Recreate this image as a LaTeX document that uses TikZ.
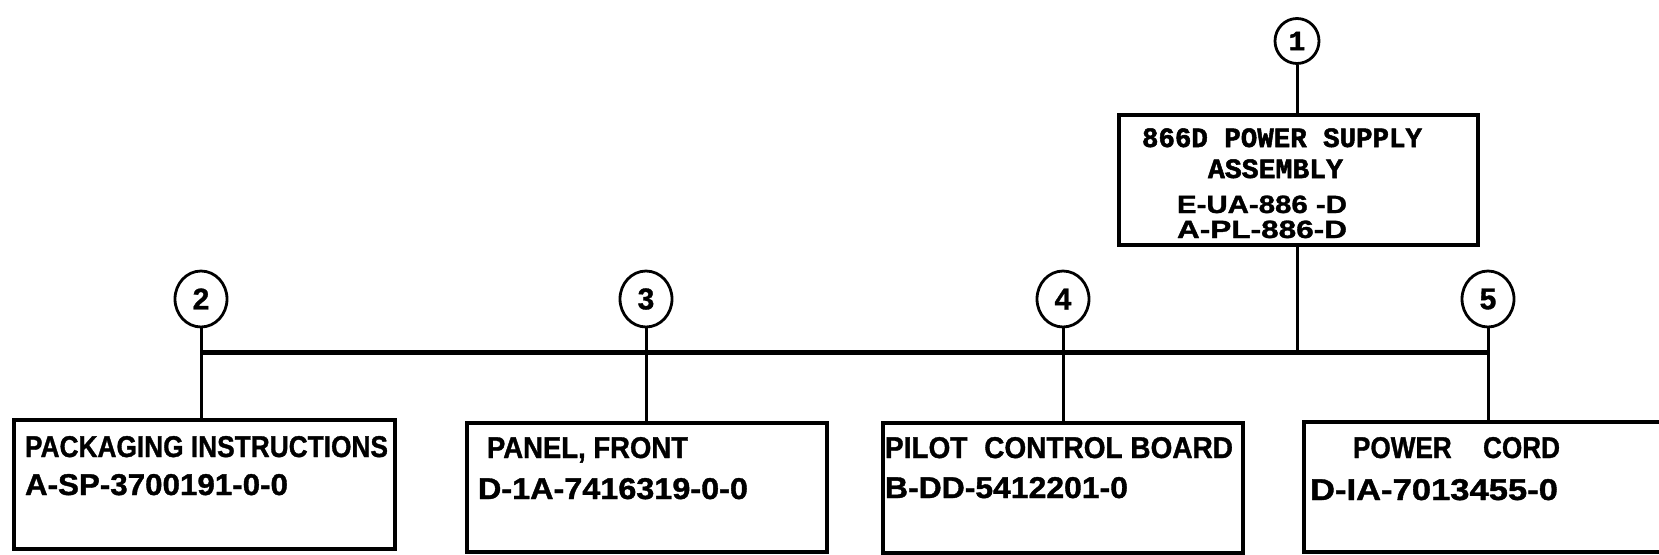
\documentclass[tikz,border=0pt]{standalone}
\usepackage{fontspec}
\usepackage{graphicx}
\usetikzlibrary{shapes.geometric}
\newfontfamily\letr{Liberation Sans}[BoldFont={Liberation Sans Bold}, BoldFeatures={FakeBold=1.2}]
\newfontfamily\typew{Liberation Mono}[BoldFont={Liberation Mono Bold}, BoldFeatures={FakeBold=1.8}]
\newcommand\fw[2]{\resizebox{#1pt}{\height}{#2}}
\tikzset{
  partbox/.style={draw, line width=3.2pt, inner sep=0pt, minimum height=130pt},
  ring/.style={draw, ellipse, line width=2.8pt, inner sep=0pt, minimum width=#1, minimum height=56pt},
  link/.style={line width=3pt},
  busline/.style={line width=5pt},
  txt/.style={anchor=base west, inner sep=0pt, outer sep=0pt},
  letf/.style={font=\letr\bfseries\fontsize{30}{32}\selectfont},
  letg/.style={font=\letr\bfseries\fontsize{25}{27}\selectfont},
  tyf/.style={font=\typew\bfseries\fontsize{28}{30}\selectfont}
}
\begin{document}
\begin{tikzpicture}[x=1pt,y=-1pt]
\fill[white] (0,0) rectangle (1659,554);
\useasboundingbox (0,0) rectangle (1659,554);
% circles
\node[ring=44pt, minimum height=45pt, tyf] (c1) at (1297,41) {1};
\node[ring=52pt, letf] (c2) at (201,299) {2};
\node[ring=52pt, letf] (c3) at (646,299) {3};
\node[ring=52pt, letf] (c4) at (1063,299) {4};
\node[ring=52pt, letf] (c5) at (1488,299) {5};
% boxes
\node[partbox, minimum width=359pt] (b1) at (1298.5,180) {};
\node[partbox, minimum width=381pt, minimum height=129pt] (b2) at (204.5,484.5) {};
\node[partbox, minimum width=360pt, minimum height=129pt] (b3) at (647,487.5) {};
\node[partbox, minimum width=360pt] (b4) at (1063,488) {};
\node[partbox, minimum width=420pt] (b5) at (1514,487) {};
\coordinate (bus) at (0,352);
% connectors
\draw[link] (c1.south) -- (c1.south |- b1.north);
\draw[link] (b1.south -| c1) -- (c1 |- bus);
\draw[busline] (c2 |- bus) -- (c5 |- bus);
\draw[link] (c2.south) -- (c2.south |- b2.north);
\draw[link] (c3.south) -- (c3.south |- b3.north);
\draw[link] (c4.south) -- (c4.south |- b4.north);
\draw[link] (c5.south) -- (c5.south |- b5.north);
% texts top box
\node[txt, tyf] (t1a) at (1142,147) {\fw{280}{866D POWER SUPPLY}};
\node[txt, tyf] (t1b) at (1208,178) {\fw{135}{ASSEMBLY}};
\node[txt, letg] (t1c) at (1177,213) {\fw{170}{E-UA-886 -D}};
\node[txt, letg] (t1d) at (1177,238) {\fw{170}{A-PL-886-D}};
% texts bottom boxes
\node[txt, letf] (t2a) at (25,457) {\fw{363}{PACKAGING INSTRUCTIONS}};
\node[txt, letf] (t2b) at (25,495) {\fw{263}{A-SP-3700191-0-0}};
\node[txt, letf] (t3a) at (487,458) {\fw{201}{PANEL, FRONT}};
\node[txt, letf] (t3b) at (478,499) {\fw{270}{D-1A-7416319-0-0}};
\node[txt, letf] (t4a) at (885,458) {\fw{348}{PILOT\hspace{0.6em}CONTROL BOARD}};
\node[txt, letf] (t4b) at (885,498) {\fw{243}{B-DD-5412201-0}};
\node[txt, letf] (t5a) at (1353,458) {\fw{207}{POWER\hspace{1.2em}CORD}};
\node[txt, letf] (t5b) at (1310,500) {\fw{248}{D-IA-7013455-0}};
\end{tikzpicture}
\end{document}
